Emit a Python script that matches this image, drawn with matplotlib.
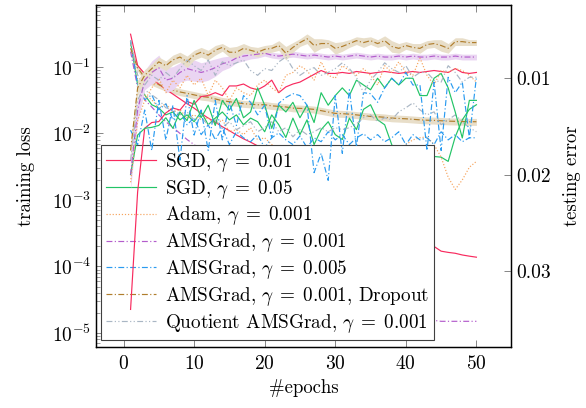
import numpy as np
import matplotlib
matplotlib.use("Agg")
import matplotlib.pyplot as plt
from matplotlib.ticker import LogLocator, NullFormatter

plt.rcParams["font.family"] = "serif"
plt.rcParams["font.serif"] = ["cmr10"]
plt.rcParams["mathtext.fontset"] = "cm"
plt.rcParams["axes.unicode_minus"] = False
plt.rcParams["axes.formatter.use_mathtext"] = True

epochs = np.arange(1, 51)

# training loss (left, log axis)
sgd01_train = [0.31, 0.105, 0.079, 0.066, 0.055, 0.046, 0.039, 0.033, 0.028, 0.024,
               0.020, 0.017, 0.0148, 0.0126, 0.011, 0.0095, 0.0083, 0.0074, 0.0065, 0.0058,
               0.00502, 0.00436, 0.00379, 0.00329, 0.00286, 0.00249, 0.00216, 0.00188, 0.00163, 0.00142,
               0.00123, 0.00107, 0.00093, 0.00081, 0.00070, 0.00061, 0.00053, 0.00046, 0.00040, 0.00035,
               0.00030, 0.00026, 0.00023, 0.00020, 0.00017, 0.000163, 0.000158, 0.000149, 0.000143, 0.000138]
sgd05_train = [0.237, 0.054, 0.038, 0.027, 0.024, 0.019, 0.021, 0.016, 0.019, 0.015,
               0.021, 0.0135, 0.017, 0.021, 0.016, 0.019, 0.0135, 0.017, 0.015, 0.0106,
               0.019, 0.0135, 0.0087, 0.017, 0.0096, 0.016, 0.0068, 0.0114, 0.015, 0.0096,
               0.0081, 0.017, 0.0114, 0.023, 0.027, 0.016, 0.0135, 0.0068, 0.0041, 0.0048,
               0.0034, 0.0057, 0.0044, 0.0045, 0.0044, 0.0038, 0.0089, 0.016, 0.023, 0.027]
adam_train = [0.214, 0.064, 0.038, 0.032, 0.0243, 0.0279, 0.0211, 0.0226, 0.0172, 0.019,
              0.016, 0.0172, 0.0135, 0.016, 0.0106, 0.0114, 0.0096, 0.0122, 0.008, 0.0086,
              0.0068, 0.0057, 0.0061, 0.0041, 0.0057, 0.0034, 0.0044, 0.0029, 0.0041, 0.0024,
              0.0031, 0.0027, 0.0041, 0.002, 0.0034, 0.0029, 0.0048, 0.0041, 0.0057, 0.0068,
              0.008, 0.0086, 0.0089, 0.0068, 0.0044, 0.0022, 0.00144, 0.002, 0.0031, 0.0038]
ams001_train = [0.17, 0.049, 0.032, 0.025, 0.019, 0.015, 0.0123, 0.010, 0.0081, 0.0068,
                0.0056, 0.0046, 0.0037, 0.0031, 0.0025, 0.0021, 0.0017, 0.0014, 0.00114, 0.00094,
                0.00077, 0.00063, 0.00052, 0.00042, 0.00035, 0.00029, 0.00023, 0.00019, 0.00016, 0.00013,
                0.000107, 8.8e-5, 7.2e-5, 5.9e-5, 4.8e-5, 4.0e-5, 3.2e-5, 2.7e-5, 2.2e-5, 1.8e-5,
                1.6e-5, 1.6e-5, 1.55e-5, 1.55e-5, 1.5e-5, 1.5e-5, 1.5e-5, 1.5e-5, 1.5e-5, 1.5e-5]
ams005_train = [0.25, 0.054, 0.032, 0.038, 0.0226, 0.0279, 0.016, 0.0211, 0.0135, 0.0172,
                0.0096, 0.0135, 0.008, 0.0122, 0.0068, 0.0106, 0.0086, 0.0075, 0.0096, 0.0061,
                0.0086, 0.0102, 0.008, 0.0068, 0.0092, 0.0061, 0.0086, 0.0075, 0.0106, 0.008,
                0.0096, 0.0068, 0.0086, 0.0099, 0.008, 0.0096, 0.0075, 0.0086, 0.0106, 0.0068,
                0.0096, 0.008, 0.0086, 0.0068, 0.0106, 0.008, 0.0096, 0.0075, 0.0086, 0.0086]
drop_train = [0.19, 0.097, 0.069, 0.060, 0.054, 0.049, 0.045, 0.042, 0.040, 0.038,
              0.036, 0.035, 0.033, 0.031, 0.030, 0.029, 0.028, 0.0275, 0.027, 0.027,
              0.026, 0.0255, 0.025, 0.024, 0.0238, 0.0235, 0.023, 0.022, 0.021, 0.020,
              0.0198, 0.0195, 0.019, 0.0185, 0.018, 0.0178, 0.0175, 0.017, 0.0168, 0.0166,
              0.0163, 0.016, 0.0158, 0.0157, 0.0155, 0.0153, 0.0152, 0.0151, 0.015, 0.015]
quot_train = [0.25, 0.076, 0.045, 0.038, 0.032, 0.0243, 0.0226, 0.019, 0.0211, 0.016,
              0.0172, 0.0135, 0.016, 0.0122, 0.015, 0.0114, 0.013, 0.015, 0.0106, 0.0122,
              0.015, 0.0106, 0.0122, 0.0089, 0.0114, 0.0096, 0.0106, 0.0122, 0.0106, 0.0122,
              0.0114, 0.0122, 0.0139, 0.0172, 0.019, 0.015, 0.0172, 0.016, 0.0211, 0.0243,
              0.0288, 0.0226, 0.019, 0.0211, 0.0135, 0.016, 0.019, 0.015, 0.0122, 0.0106]

# testing error (right axis, reversed)
sgd01_test = [0.0340, 0.0218, 0.0152, 0.0146, 0.0145, 0.0136, 0.0131, 0.0133, 0.0124, 0.0127,
              0.0119, 0.0118, 0.0115, 0.0118, 0.0108, 0.0108, 0.0106, 0.0110, 0.0112, 0.0108,
              0.0102, 0.0115, 0.0109, 0.0106, 0.0104, 0.0100, 0.0096, 0.0092, 0.0095, 0.0095,
              0.0094, 0.0095, 0.0093, 0.0094, 0.0095, 0.0094, 0.0093, 0.0094, 0.0095, 0.0094,
              0.0093, 0.0094, 0.0093, 0.0092, 0.0093, 0.0094, 0.0090, 0.0094, 0.0095, 0.0094]
sgd05_test = [0.0200, 0.0159, 0.0152, 0.0151, 0.0149, 0.0141, 0.0152, 0.0135, 0.0144, 0.0123,
              0.0141, 0.0128, 0.0149, 0.0123, 0.0133, 0.0121, 0.0141, 0.0135, 0.0110, 0.0128,
              0.0152, 0.0128, 0.0135, 0.0125, 0.0141, 0.0128, 0.0146, 0.0115, 0.0128, 0.0118,
              0.0110, 0.0118, 0.0102, 0.0107, 0.0112, 0.0100, 0.0110, 0.0100, 0.0107, 0.0100,
              0.0100, 0.0118, 0.0118, 0.0100, 0.0095, 0.0110, 0.0135, 0.0162, 0.0123, 0.0123]
adam_test = [0.0208, 0.0144, 0.0123, 0.0110, 0.0100, 0.0115, 0.0102, 0.0110, 0.0097, 0.0107,
             0.0100, 0.0118, 0.0102, 0.0110, 0.0123, 0.0110, 0.0115, 0.0118, 0.0107, 0.0102,
             0.0110, 0.0115, 0.0097, 0.0094, 0.0087, 0.0092, 0.0102, 0.0083, 0.0097, 0.0100,
             0.0087, 0.0092, 0.0097, 0.0090, 0.0097, 0.0107, 0.0087, 0.0094, 0.0083, 0.0094,
             0.0097, 0.0079, 0.0097, 0.0107, 0.0092, 0.0094, 0.0090, 0.0092, 0.0097, 0.0104]
ams001_test = [0.0200, 0.0133, 0.0102, 0.0094, 0.0089, 0.0102, 0.0100, 0.0094, 0.0090, 0.0092,
               0.0094, 0.0092, 0.0089, 0.0085, 0.0083, 0.0079, 0.0077, 0.0076, 0.0075, 0.0074,
               0.0076, 0.0077, 0.0076, 0.0075, 0.0076, 0.0077, 0.0076, 0.0077, 0.0078, 0.0077,
               0.0078, 0.0077, 0.0076, 0.0077, 0.0078, 0.0077, 0.0078, 0.0078, 0.0077, 0.0078,
               0.0077, 0.0078, 0.0078, 0.0077, 0.0078, 0.0078, 0.0077, 0.0078, 0.0078, 0.0078]
ams001_test_std = [0.0015, 0.0012, 0.0010, 0.0012, 0.0013, 0.0013, 0.0012, 0.0010, 0.0012, 0.0011,
                   0.0010, 0.0010, 0.0009, 0.0007, 0.0006, 0.0005, 0.0005, 0.0004, 0.0004, 0.0003,
                   0.0003, 0.0003, 0.0003, 0.0003, 0.0003, 0.0003, 0.0003, 0.0003, 0.0003, 0.0003,
                   0.0003, 0.0003, 0.0003, 0.0003, 0.0003, 0.0003, 0.0003, 0.0003, 0.0003, 0.0003,
                   0.0003, 0.0003, 0.0003, 0.0003, 0.0003, 0.0003, 0.0003, 0.0003, 0.0003, 0.0003]
ams005_test = [0.0154, 0.0169, 0.0133, 0.0175, 0.0123, 0.0164, 0.0128, 0.0185, 0.0118, 0.0159,
               0.0133, 0.0175, 0.0123, 0.0164, 0.0125, 0.0149, 0.0118, 0.0125, 0.0138, 0.0128,
               0.0162, 0.0126, 0.0120, 0.0116, 0.0118, 0.0128, 0.0198, 0.0178, 0.0206, 0.0118,
               0.0178, 0.0112, 0.0171, 0.0115, 0.0116, 0.0125, 0.0110, 0.0100, 0.0107, 0.0094,
               0.0107, 0.0107, 0.0175, 0.0104, 0.0175, 0.0099, 0.0115, 0.0104, 0.0162, 0.0099]
drop_test = [0.0175, 0.0110, 0.0097, 0.0090, 0.0083, 0.0087, 0.0081, 0.0078, 0.0083, 0.0076,
             0.0073, 0.0076, 0.0071, 0.0068, 0.0073, 0.0073, 0.0069, 0.0071, 0.0073, 0.0070,
             0.0069, 0.0066, 0.0074, 0.0068, 0.0063, 0.0059, 0.0066, 0.0064, 0.0064, 0.0069,
             0.0067, 0.0064, 0.0061, 0.0063, 0.0061, 0.0064, 0.0061, 0.0067, 0.0069, 0.0066,
             0.0068, 0.0069, 0.0065, 0.0064, 0.0066, 0.0069, 0.0062, 0.0062, 0.0063, 0.0063]
drop_test_std = [0.0010, 0.0008, 0.0006, 0.0005, 0.0005, 0.0005, 0.0005, 0.0005, 0.0006, 0.0005,
                 0.0005, 0.0005, 0.0005, 0.0004, 0.0005, 0.0006, 0.0005, 0.0004, 0.0005, 0.0004,
                 0.0004, 0.0005, 0.0007, 0.0005, 0.0004, 0.0005, 0.0007, 0.0005, 0.0004, 0.0006,
                 0.0005, 0.0004, 0.0004, 0.0005, 0.0004, 0.0004, 0.0005, 0.0006, 0.0005, 0.0004,
                 0.0004, 0.0005, 0.0004, 0.0004, 0.0006, 0.0005, 0.0004, 0.0004, 0.0003, 0.0003]
drop_train_spread = 0.12  # relative half-width of the band around the dropout training loss
quot_test = [0.0185, 0.0123, 0.0107, 0.0097, 0.0102, 0.0094, 0.0100, 0.0090, 0.0081, 0.0087,
             0.0092, 0.0081, 0.0097, 0.0083, 0.0087, 0.0084, 0.0081, 0.0092, 0.0097, 0.0090,
             0.0092, 0.0083, 0.0078, 0.0090, 0.0097, 0.0092, 0.0089, 0.0097, 0.0094, 0.0090,
             0.0084, 0.0090, 0.0099, 0.0115, 0.0102, 0.0094, 0.0084, 0.0090, 0.0094, 0.0087,
             0.0099, 0.0094, 0.0094, 0.0102, 0.0104, 0.0087, 0.0094, 0.0104, 0.0099, 0.0099]

labels = [r"SGD, $\gamma\;=\;0.01$", r"SGD, $\gamma\;=\;0.05$", r"Adam, $\gamma\;=\;0.001$",
          r"AMSGrad, $\gamma\;=\;0.001$", r"AMSGrad, $\gamma\;=\;0.005$",
          r"AMSGrad, $\gamma\;=\;0.001$, Dropout", r"Quotient AMSGrad, $\gamma\;=\;0.001$"]

c_red, c_green, c_orange = "#f82a5e", "#22c466", "#f6a35c"
c_purple, c_blue, c_brown, c_gray = "#b35ccc", "#2a9bf0", "#b07d2c", "#a9b6c4"
dashdot = (0, (5, 2, 1, 2))
dashdotdot = (0, (5, 2, 1, 2, 1, 2))
dotted = (0, (1, 1.6))
lw = 0.85
fs = 13.5

fig = plt.figure(figsize=(5.86, 4.08), dpi=100)
ax = fig.add_axes([0.1638, 0.1495, 0.7082, 0.8382])

styles = [(c_red, "-"), (c_green, "-"), (c_orange, dotted), (c_purple, dashdot),
          (c_blue, dashdot), (c_brown, dashdot), (c_gray, dashdotdot)]
trains = [sgd01_train, sgd05_train, adam_train, ams001_train, ams005_train, drop_train, quot_train]
tests = [sgd01_test, sgd05_test, adam_test, ams001_test, ams005_test, drop_test, quot_test]

drop_train_arr = np.array(drop_train)
ax.fill_between(epochs, drop_train_arr * (1 - drop_train_spread), drop_train_arr * (1 + drop_train_spread),
                color="#e8dec9", lw=0)
handles = []
for (col, ls), y, lab in zip(styles, trains, labels):
    h, = ax.plot(epochs, y, color=col, ls=ls, lw=lw, label=lab)
    handles.append(h)

ax.set_yscale("log")
ax.set_xlim(-3.9, 54.9)
ax.set_ylim(10 ** -5.21, 10 ** -0.07)
ax.set_xticks([0, 10, 20, 30, 40, 50])
ax.yaxis.set_major_locator(LogLocator(base=10, numticks=10))
ax.yaxis.set_minor_locator(LogLocator(base=10, subs=np.arange(2, 10), numticks=20))
ax.yaxis.set_minor_formatter(NullFormatter())
ax.tick_params(axis="both", which="major", direction="in", length=5, width=0.6,
               color="0.45", labelsize=14, top=True)
ax.tick_params(axis="y", which="minor", direction="in", length=2.8, width=0.5, color="0.45")
ax.tick_params(axis="x", pad=6)
ax.set_xlabel("#epochs", fontsize=fs, labelpad=4)
ax.set_ylabel("training loss", fontsize=fs, labelpad=12)

leg = ax.legend(handles=handles, loc="lower left", bbox_to_anchor=(0.012, 0.02),
                borderaxespad=0, fontsize=13.8, fancybox=False, framealpha=1,
                edgecolor="0.25", handlelength=2.6, handletextpad=0.45,
                labelspacing=0.2, borderpad=0.28)
leg.get_frame().set_linewidth(0.8)

ax2 = ax.twinx()
ax2.fill_between(epochs, np.array(ams001_test) - np.array(ams001_test_std),
                 np.array(ams001_test) + np.array(ams001_test_std), color="#ead5f2", lw=0)
ax2.fill_between(epochs, np.array(drop_test) - np.array(drop_test_std),
                 np.array(drop_test) + np.array(drop_test_std), color="#e8dec9", lw=0)
for (col, ls), y in zip(styles, tests):
    ax2.plot(epochs, y, color=col, ls=ls, lw=lw)
ax2.set_ylim(0.0379, 0.0024)
ax2.set_yticks([0.01, 0.02, 0.03])
ax2.set_yticklabels(["0.01", "0.02", "0.03"])
ax2.tick_params(axis="y", direction="in", length=5, width=0.6, color="0.45", labelsize=14)
ax2.set_ylabel("testing error", fontsize=fs, labelpad=9)

for a in (ax, ax2):
    for s in a.spines.values():
        s.set_linewidth(0.9)

fig.savefig("out.png", dpi=100)
